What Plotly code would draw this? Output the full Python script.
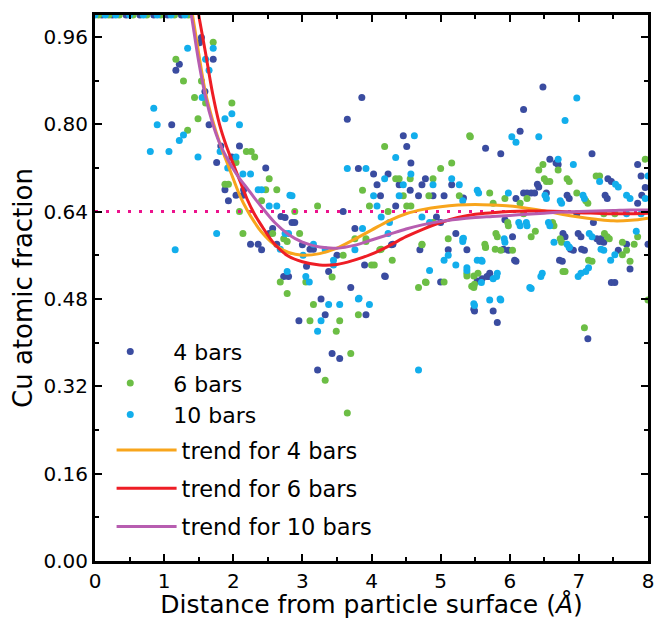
import plotly.graph_objects as go

# ---------------- data ----------------
x4 = [0.10, 0.25, 0.45, 0.65, 0.85, 1.05, 1.25,
      1.54, 1.51, 1.71, 1.22, 1.17, 1.59, 1.11, 1.65, 1.82, 2.09, 1.98, 1.76, 2.47, 1.88, 2.04, 2.14, 1.93, 2.15,
      2.25, 2.36, 2.41, 2.69, 2.85, 2.89, 2.57, 2.52, 2.63, 3.11, 3.16, 3.06, 3.38, 2.73, 2.80,
      3.00, 5.11, 5.38, 3.50, 4.29, 3.90, 4.19, 5.53, 3.70, 5.00, 5.48, 3.27, 3.33, 3.92, 2.95, 3.43, 3.54, 3.22,
      5.98, 6.09, 5.60, 5.71, 5.49, 5.76, 5.82, 6.92, 7.08, 6.76, 7.30, 7.57, 7.69, 7.74, 8.00, 7.52, 7.13,
      3.86, 3.65, 4.46, 4.51, 4.57, 3.81, 4.03, 4.24, 4.78, 4.08, 4.40, 4.73, 5.16, 4.56, 4.13, 4.68, 4.89, 5.05,
      4.35, 3.59, 2.75, 4.94, 5.00, 3.76, 5.22, 4.31, 5.33,
      6.48, 6.20, 6.15, 5.65, 5.87, 7.19, 6.58, 6.70, 7.85, 7.90, 7.96, 7.47, 6.42, 6.20, 6.25, 6.31, 6.36, 6.53,
      6.09, 7.41, 6.86, 7.85, 6.97, 5.93, 6.04, 6.80, 7.03, 7.36, 7.21, 6.77, 6.99, 7.26, 7.32, 6.88, 7.04, 5.91,
      6.07, 6.72, 5.70, 7.47, 6.40, 6.83, 7.38, 7.91, 7.42, 6.67, 4.20, 5.67, 4.70]
y4 = [1.0, 1.0, 1.0, 1.0, 1.0, 1.0, 1.0,
      0.959, 0.949, 0.919, 0.910, 0.899, 0.860, 0.799, 0.799, 0.760, 0.760, 0.740, 0.730, 0.720, 0.680, 0.670, 0.670, 0.660, 0.680,
      0.580, 0.580, 0.570, 0.631, 0.620, 0.620, 0.609, 0.600, 0.580, 0.571, 0.571, 0.540, 0.530, 0.521, 0.521,
      0.579, 0.570, 0.570, 0.560, 0.579, 0.542, 0.522, 0.513, 0.501, 0.511, 0.461, 0.480, 0.451, 0.451, 0.440, 0.380, 0.371, 0.350,
      0.569, 0.549, 0.517, 0.527, 0.458, 0.458, 0.437, 0.569, 0.569, 0.549, 0.585, 0.569, 0.580, 0.535, 0.580, 0.510, 0.407,
      0.849, 0.809, 0.779, 0.759, 0.729, 0.719, 0.709, 0.709, 0.700, 0.689, 0.689, 0.689, 0.689, 0.679, 0.669, 0.669, 0.669, 0.669,
      0.650, 0.640, 0.629, 0.630, 0.620, 0.609, 0.600, 0.580, 0.665,
      0.868, 0.827, 0.787, 0.756, 0.746, 0.746, 0.736, 0.726, 0.726, 0.705, 0.684, 0.695, 0.685, 0.674, 0.674, 0.674, 0.674, 0.674,
      0.664, 0.664, 0.664, 0.655, 0.636, 0.625, 0.594, 0.594, 0.594, 0.584, 0.620, 0.600, 0.600, 0.590, 0.590, 0.571, 0.571, 0.571,
      0.551, 0.551, 0.521, 0.510, 0.690, 0.670, 0.670, 0.670, 0.700, 0.729, 0.521, 0.521, 0.570]

x6 = [0.05, 0.20, 0.35, 0.55, 0.75, 0.95, 1.15, 1.35,
      1.71, 1.17, 1.28, 1.54, 1.44, 1.60, 1.98, 1.49, 1.34, 2.19, 2.26, 2.31, 2.04, 2.52, 1.88, 1.93, 2.47, 2.63,
      2.41, 2.09, 2.14, 3.22, 2.89, 2.57, 2.96, 2.73, 2.78,
      3.92, 4.12, 4.73, 3.59, 4.30, 4.00, 4.04, 5.48, 5.38, 5.45, 2.68, 3.05, 2.78, 3.43, 4.78, 5.05, 4.68, 3.16,
      3.81, 3.11, 3.54, 3.49, 3.70, 3.33, 3.65,
      5.65, 5.87, 6.04, 5.38, 5.54, 5.49, 6.80, 7.19, 7.63, 7.69, 7.80, 7.74, 7.08, 8.00,
      4.19, 5.42, 5.16, 5.00, 4.35, 4.40, 4.89, 4.56, 3.87, 4.46, 4.83, 5.27, 4.51, 4.57, 3.97, 4.24, 4.89,
      3.76, 3.92, 4.73, 4.14, 5.11, 5.64, 4.79, 5.48,
      5.43, 6.48, 6.42, 6.70, 7.96, 6.53, 6.58, 6.86, 7.25, 7.30, 5.71, 6.97, 6.25, 5.93, 5.76, 6.15, 7.13,
      7.52, 7.36, 6.20, 5.98, 6.64, 6.37, 6.31, 5.82, 7.41, 7.85, 6.75, 7.63, 5.65, 5.97, 6.62, 5.80, 7.37,
      6.73, 7.44, 5.79, 7.14, 6.77, 7.10, 6.83, 6.50]
y6 = [1.0, 1.0, 1.0, 1.0, 1.0, 1.0, 1.0, 1.0,
      0.950, 0.919, 0.879, 0.879, 0.849, 0.839, 0.839, 0.810, 0.789, 0.750, 0.750, 0.740, 0.730, 0.700, 0.690, 0.690, 0.680, 0.680,
      0.660, 0.640, 0.600, 0.650, 0.640, 0.600, 0.600, 0.590, 0.585,
      0.585, 0.570, 0.579, 0.560, 0.551, 0.542, 0.542, 0.522, 0.522, 0.503, 0.511, 0.511, 0.490, 0.520, 0.511, 0.511, 0.501, 0.470,
      0.451, 0.440, 0.440, 0.421, 0.380, 0.331, 0.271,
      0.575, 0.569, 0.569, 0.527, 0.527, 0.507, 0.530, 0.549, 0.561, 0.569, 0.580, 0.549, 0.427, 0.478,
      0.759, 0.779, 0.729, 0.719, 0.700, 0.700, 0.700, 0.700, 0.679, 0.669, 0.669, 0.669, 0.650, 0.650, 0.650, 0.640, 0.620,
      0.590, 0.590, 0.580, 0.571, 0.590, 0.580, 0.510, 0.501,
      0.777, 0.726, 0.716, 0.716, 0.736, 0.695, 0.695, 0.695, 0.705, 0.705, 0.674, 0.674, 0.664, 0.664, 0.655, 0.655, 0.655,
      0.636, 0.636, 0.636, 0.614, 0.614, 0.604, 0.594, 0.594, 0.594, 0.594, 0.584, 0.584, 0.574, 0.620, 0.620, 0.600, 0.600,
      0.590, 0.590, 0.571, 0.551, 0.530, 0.660, 0.700, 0.700]

x10 = [0.00, 0.15, 0.30, 0.50, 0.70, 0.90, 1.10, 1.30,
       1.34, 1.71, 1.60, 1.65, 1.55, 1.98, 1.88, 0.85, 0.90, 2.09, 1.28, 1.22, 0.80, 1.07, 1.81, 1.49, 2.04,
       1.92, 2.14, 2.25, 2.36, 2.41, 2.52, 2.63, 2.82, 1.16, 1.76,
       2.75, 2.68, 3.16, 3.01, 2.78, 3.05, 3.33, 5.11, 5.32, 3.76, 3.45, 5.05, 5.53, 3.45, 5.22, 4.84, 5.38, 3.10,
       5.48, 3.38, 3.54, 3.81, 3.97, 3.27, 3.22, 4.68,
       5.60, 5.38, 5.82, 5.76, 5.71, 5.87, 5.49, 6.31, 6.47, 6.86, 7.03, 7.14, 7.36, 7.52,
       4.62, 4.35, 3.65, 3.92, 4.57, 4.19, 5.16, 4.46, 4.89, 5.27, 5.53, 4.03, 4.40, 5.32, 2.85, 4.08, 4.14, 4.73,
       4.26, 4.84, 3.87, 4.24, 2.80, 5.32, 5.59, 5.33, 3.82, 5.59,
       6.97, 6.80, 6.03, 6.42, 6.09, 6.70, 6.92, 8.00, 7.30, 7.57, 5.55, 5.98, 6.53, 7.74, 7.96, 7.08, 6.75, 7.90,
       7.69, 6.15, 6.25, 6.58, 7.19, 7.83, 6.64, 5.93, 6.86, 6.13, 6.24, 6.56, 7.15, 5.92, 6.83, 7.32, 7.46, 7.10,
       6.45, 6.99, 5.81, 6.29, 5.86, 6.51, 6.73, 7.06, 7.69, 7.53]
y10 = [1.0, 1.0, 1.0, 1.0, 1.0, 1.0, 1.0, 1.0,
       0.939, 0.939, 0.919, 0.899, 0.849, 0.819, 0.810, 0.829, 0.799, 0.799, 0.780, 0.770, 0.750, 0.750, 0.750, 0.740, 0.740,
       0.720, 0.709, 0.709, 0.680, 0.680, 0.650, 0.650, 0.670, 0.570, 0.600,
       0.600, 0.571, 0.580, 0.560, 0.530, 0.521, 0.570, 0.560, 0.585, 0.570, 0.551, 0.551, 0.551, 0.542, 0.542, 0.532, 0.532, 0.511,
       0.471, 0.470, 0.470, 0.480, 0.470, 0.440, 0.421, 0.350,
       0.549, 0.537, 0.527, 0.517, 0.478, 0.478, 0.468, 0.499, 0.527, 0.575, 0.527, 0.537, 0.569, 0.561,
       0.779, 0.739, 0.719, 0.719, 0.709, 0.700, 0.700, 0.689, 0.689, 0.689, 0.679, 0.669, 0.669, 0.660, 0.669, 0.650, 0.630, 0.630,
       0.620, 0.620, 0.609, 0.600, 0.600, 0.590, 0.551, 0.591, 0.481, 0.510,
       0.848, 0.807, 0.777, 0.777, 0.767, 0.736, 0.726, 0.705, 0.695, 0.685, 0.674, 0.674, 0.664, 0.664, 0.664, 0.664, 0.655, 0.636,
       0.636, 0.614, 0.614, 0.614, 0.594, 0.604, 0.584, 0.584, 0.574, 0.620, 0.620, 0.620, 0.600, 0.590, 0.580, 0.571, 0.551, 0.530,
       0.521, 0.521, 0.521, 0.501, 0.480, 0.670, 0.660, 0.670, 0.670, 0.690]

trend_x = [1.3, 1.4, 1.5, 1.6, 1.7, 1.8, 1.9, 2.0, 2.1, 2.2, 2.3, 2.4, 2.6, 2.8, 3.0, 3.25, 3.5, 3.75,
           4.0, 4.25, 4.5, 4.75, 5.0, 5.25, 5.5, 5.75, 6.0, 6.25, 6.5, 6.75, 7.0, 7.25, 7.5, 7.75, 8.0]
trend4 = [1.09, 1.009, 0.930, 0.857, 0.808, 0.767, 0.733, 0.700, 0.668, 0.643, 0.622, 0.604, 0.579, 0.565, 0.560, 0.563,
          0.573, 0.589, 0.606, 0.623, 0.636, 0.644, 0.649, 0.652, 0.653, 0.652, 0.650, 0.646, 0.641, 0.635, 0.630,
          0.626, 0.623, 0.624, 0.628]
trend6 = [1.15, 1.07, 1.000, 0.930, 0.857, 0.800, 0.760, 0.727, 0.695, 0.663, 0.637, 0.616, 0.580, 0.558, 0.548, 0.542,
          0.543, 0.551, 0.562, 0.577, 0.594, 0.608, 0.620, 0.629, 0.635, 0.638, 0.640, 0.641, 0.641, 0.640, 0.638,
          0.637, 0.636, 0.636, 0.637]
trend10 = [1.07, 0.995, 0.915, 0.850, 0.802, 0.766, 0.740, 0.718, 0.699, 0.683, 0.666, 0.650, 0.620, 0.598, 0.584, 0.575,
           0.573, 0.578, 0.588, 0.598, 0.608, 0.616, 0.622, 0.626, 0.629, 0.631, 0.633, 0.635, 0.637, 0.639, 0.640,
           0.641, 0.642, 0.643, 0.643]

ref_level = 0.64
x_ticks = [0, 1, 2, 3, 4, 5, 6, 7, 8]
y_ticks = [0.00, 0.16, 0.32, 0.48, 0.64, 0.80, 0.96]

# ---------------- styles ----------------
C_DB = "#3A4CA0"
C_G = "#6CBE45"
C_LB = "#12AEEC"
C_OR = "#F8A51C"
C_RED = "#EE1D25"
C_PUR = "#B75DB0"
C_PINK = "#EC128C"
FONT = "DejaVu Sans, Liberation Sans, sans-serif"

fig = go.Figure()

for xs, ys, col, name in [(x4, y4, C_DB, "4 bars"), (x6, y6, C_G, "6 bars"), (x10, y10, C_LB, "10 bars")]:
    fig.add_trace(go.Scatter(x=xs, y=ys, mode="markers", name=name,
                             marker=dict(color=col, size=7, line=dict(width=0)),
                             legend="legend"))

fig.add_trace(go.Scatter(x=[0, 8], y=[ref_level, ref_level], mode="lines",
                         line=dict(color=C_PINK, width=3, dash="3px,8px"),
                         showlegend=False, hoverinfo="skip"))

for ys, col, name, grp in [(trend4, C_OR, "trend for 4 bars", "a"),
                           (trend6, C_RED, "trend for 6 bars", "b"),
                           (trend10, C_PUR, "trend for 10 bars", "c")]:
    fig.add_trace(go.Scatter(x=trend_x, y=ys, mode="lines", name=name,
                             line=dict(color=col, width=3, shape="spline", smoothing=1.0),
                             legend="legend2", legendgroup=grp))

axis_common = dict(showline=True, linewidth=3, linecolor="black", mirror="ticks",
                   ticks="inside", ticklen=7, tickwidth=2, tickcolor="black",
                   showgrid=False, zeroline=False, automargin=False,
                   tickfont=dict(family=FONT, size=20, color="black"))

fig.update_xaxes(range=[0, 8], tickvals=x_ticks, ticktext=[str(v) for v in x_ticks],
                 minor=dict(dtick=0.5, ticks="inside", ticklen=4, tickwidth=2, tickcolor="black"),
                 title=dict(text="Distance from particle surface (<i>Å</i>)",
                            font=dict(family=FONT, size=25, color="black"), standoff=2),
                 **axis_common)
fig.update_yaxes(range=[0, 1.0], tickvals=y_ticks, ticktext=[f"{v:.2f}" for v in y_ticks],
                 minor=dict(dtick=0.08, ticks="inside", ticklen=4, tickwidth=2, tickcolor="black"),
                 title=dict(text="Cu atomic fraction",
                            font=dict(family=FONT, size=26, color="black"), standoff=4),
                 **axis_common)

fig.update_layout(
    width=656, height=619,
    margin=dict(l=95, r=8, t=15, b=58),
    paper_bgcolor="white", plot_bgcolor="white",
    font=dict(family=FONT, color="black"),
    legend=dict(x=-0.014, y=0.422, xanchor="left", yanchor="top",
                bgcolor="rgba(0,0,0,0)", itemwidth=76,
                font=dict(family=FONT, size=22, color="black"), tracegroupgap=0),
    legend2=dict(x=0.03, y=0.242, xanchor="left", yanchor="top",
                 bgcolor="rgba(0,0,0,0)", itemwidth=60,
                 font=dict(family=FONT, size=22.5, color="black"), tracegroupgap=6),
)

fig.write_html("out.html",
               config={"displayModeBar": False},
               post_script="document.body.style.margin='0';document.body.style.padding='0';"
                           "document.body.style.overflow='hidden';")
